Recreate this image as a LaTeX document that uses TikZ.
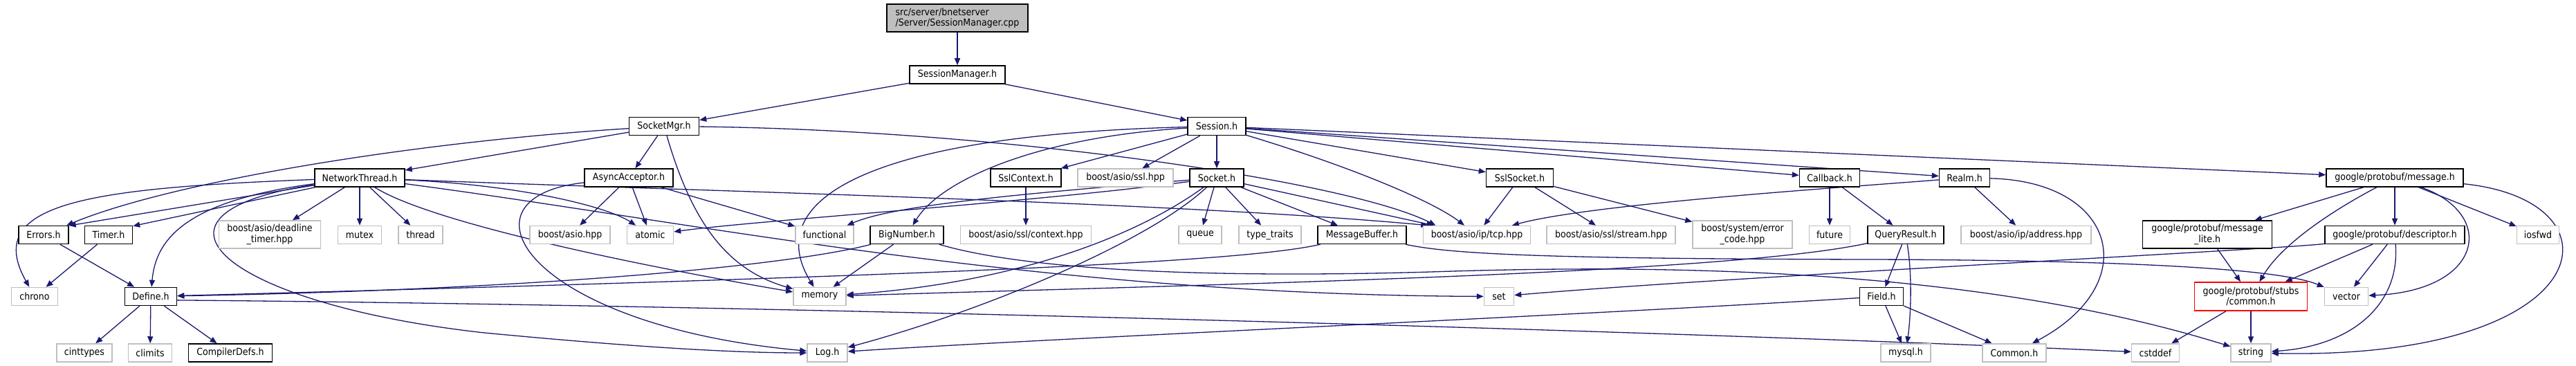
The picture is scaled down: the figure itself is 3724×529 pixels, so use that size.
\documentclass[tikz,border=0pt]{standalone}
\usepackage{fontspec}
\setmainfont{DejaVu Sans}[FakeStretch=0.9]
\usetikzlibrary{arrows.meta}
\definecolor{edgeblue}{HTML}{191970}
\definecolor{lgray}{HTML}{BFBFBF}
\pgfdeclarelayer{bg}
\pgfsetlayers{bg,main}
\tikzset{
  box/.style={rectangle, inner sep=0pt, minimum height=26pt, line width=1.5pt, fill=white,
    font=\fontsize{14}{15.5}\selectfont, align=center},
  doc/.style={box, draw=black},
  ext/.style={box, draw=lgray},
  redbox/.style={box, draw=red},
  dep/.style={draw=edgeblue, line width=1.3pt, -{Triangle[length=10pt,width=8pt]}},
}
\begin{document}
\begin{tikzpicture}[x=1pt,y=-1pt]
\useasboundingbox (0,0) rectangle (3724,529);
% row 0-2
\node[doc, fill=lgray, minimum width=204pt, minimum height=40pt, align=left] (root) at (1384,26) {src/server/bnetserver\\/Server/SessionManager.cpp};
\node[doc, minimum width=138pt] (smh) at (1384,108) {SessionManager.h};
\node[doc, minimum width=101pt] (sm) at (960,182.5) {SocketMgr.h};
\node[doc, minimum width=84pt] (sess) at (1759,182.5) {Session.h};
% row 3
\node[doc, minimum width=130pt] (nt) at (520,257) {NetworkThread.h};
\node[doc, minimum width=128pt] (aa) at (909,257) {AsyncAcceptor.h};
\node[doc, minimum width=102pt] (sslctx) at (1483,257) {SslContext.h};
\node[ext, minimum width=138pt] (sslhpp) at (1627,257) {boost/asio/ssl.hpp};
\node[doc, minimum width=78pt] (sock) at (1759,257) {Socket.h};
\node[doc, minimum width=97pt] (sslsock) at (2197,257) {SslSocket.h};
\node[doc, minimum width=87pt] (cb) at (2645,257) {Callback.h};
\node[doc, minimum width=73pt] (realm) at (2840,257) {Realm.h};
\node[doc, minimum width=198pt] (msg) at (3462,257) {google/protobuf/message.h};
% row 4
\node[doc, minimum width=72pt] (err) at (63,339.5) {Errors.h};
\node[doc, minimum width=69pt] (timer) at (157,339.5) {Timer.h};
\node[ext, minimum width=147pt, minimum height=40pt] (deadline) at (390,339) {boost/asio/deadline\\\_timer.hpp};
\node[ext, minimum width=63pt] (mutex) at (520,339.5) {mutex};
\node[ext, minimum width=64pt] (thread) at (608,339.5) {thread};
\node[ext, minimum width=116pt] (asiohpp) at (824,339.5) {boost/asio.hpp};
\node[ext, minimum width=67pt] (atomic) at (940,339.5) {atomic};
\node[ext, minimum width=84pt] (functional) at (1192,339.5) {functional};
\node[doc, minimum width=106pt] (bn) at (1311,339.5) {BigNumber.h};
\node[ext, minimum width=189pt] (sslctxhpp) at (1483,339.5) {boost/asio/ssl/context.hpp};
\node[ext, minimum width=62pt] (queue) at (1735,339.5) {queue};
\node[ext, minimum width=90pt] (typetraits) at (1836,339.5) {type\_traits};
\node[doc, minimum width=128pt] (mb) at (1969,339.5) {MessageBuffer.h};
\node[ext, minimum width=155pt] (tcp) at (2135,339.5) {boost/asio/ip/tcp.hpp};
\node[ext, minimum width=186pt] (stream) at (2329,339.5) {boost/asio/ssl/stream.hpp};
\node[ext, minimum width=144pt, minimum height=40pt] (errcode) at (2519,339) {boost/system/error\\\_code.hpp};
\node[ext, minimum width=59pt] (future) at (2645,339.5) {future};
\node[doc, minimum width=110pt] (qr) at (2755,339.5) {QueryResult.h};
\node[ext, minimum width=188pt] (addr) at (2929,339.5) {boost/asio/ip/address.hpp};
\node[doc, minimum width=187pt, minimum height=40pt] (msglite) at (3191,339) {google/protobuf/message\\\_lite.h};
\node[doc, minimum width=202pt] (desc) at (3462,339.5) {google/protobuf/descriptor.h};
\node[ext, minimum width=61pt] (iosfwd) at (3669,339.5) {iosfwd};
% row 5
\node[ext, minimum width=67pt] (chrono) at (50,428.5) {chrono};
\node[doc, minimum width=75pt] (define) at (218,428.5) {Define.h};
\node[ext, minimum width=76pt] (memory) at (1185,428.5) {memory};
\node[ext, minimum width=43pt] (set) at (2167,428.5) {set};
\node[doc, minimum width=63pt] (field) at (2720,428.5) {Field.h};
\node[redbox, minimum width=163pt, minimum height=41pt] (stubs) at (3254,428.5) {google/protobuf/stubs\\/common.h};
\node[ext, minimum width=63pt] (vector) at (3392,428.5) {vector};
% row 6
\node[ext, minimum width=80pt] (cinttypes) at (122,510) {cinttypes};
\node[ext, minimum width=63pt] (climits) at (217,510) {climits};
\node[doc, minimum width=121pt] (compdefs) at (333,510) {CompilerDefs.h};
\node[ext, minimum width=58pt] (log) at (1196,510) {Log.h};
\node[ext, minimum width=72pt] (mysql) at (2755,510) {mysql.h};
\node[ext, minimum width=92pt] (common) at (2912,510) {Common.h};
\node[ext, minimum width=69pt] (cstddef) at (3116,510) {cstddef};
\node[ext, minimum width=58pt] (string) at (3254,510) {string};

\begin{pgfonlayer}{bg}
\draw[dep] (root) -- (smh);
\draw[dep] (smh) -- (sm);
\draw[dep] (smh) -- (sess);
% SocketMgr.h
\draw[dep] (sm) -- (nt);
\draw[dep] (sm) .. controls (600,205) and (250,262) .. (err);
\draw[dep] (sm) -- (aa);
\draw[dep] (sm) .. controls (1000,320) and (1050,390) .. (memory);
\draw[dep] (sm) .. controls (1450,188) and (1950,262) .. (tcp.167);
% NetworkThread.h
\draw[dep] (nt) .. controls (120,272) and (-25,295) .. (chrono);
\draw[dep] (nt) -- (err.20);
\draw[dep] (nt) -- (timer.20);
\draw[dep] (nt) .. controls (270,290) and (225,345) .. (define);
\draw[dep] (nt) .. controls (170,310) and (330,440) .. (700,481) .. controls (900,500) and (1050,510) .. (log);
\draw[dep] (nt) -- (deadline);
\draw[dep] (nt) -- (mutex);
\draw[dep] (nt) -- (thread);
\draw[dep] (nt) .. controls (620,320) and (900,380) .. (memory);
\draw[dep] (nt) .. controls (1000,276) and (1700,292) .. (tcp.169);
\draw[dep] (nt) .. controls (760,268) and (880,300) .. (atomic);
\draw[dep] (nt) .. controls (1000,320) and (1500,426) .. (set);
% AsyncAcceptor.h
\draw[dep] (aa) -- (asiohpp);
\draw[dep] (aa) -- (atomic);
\draw[dep] (aa) -- (functional);
\draw[dep] (aa) .. controls (650,285) and (760,470) .. (log);
% Session.h
\draw[dep] (sess) -- (sslctx);
\draw[dep] (sess) -- (sslhpp);
\draw[dep] (sess) -- (sock);
\draw[dep] (sess) .. controls (1250,195) and (1100,290) .. (memory);
\draw[dep] (sess) .. controls (1500,198) and (1360,260) .. (bn);
\draw[dep] (sess) -- (sslsock);
\draw[dep] (sess) -- (cb);
\draw[dep] (sess) -- (realm);
\draw[dep] (sess) -- (msg);
\draw[dep] (sess) .. controls (1950,240) and (2070,290) .. (tcp);
% Socket.h
\draw[dep] (sock) .. controls (1500,292) and (1100,318) .. (atomic);
\draw[dep] (sock) .. controls (1450,282) and (1290,298) .. (functional);
\draw[dep] (sock) -- (queue);
\draw[dep] (sock) -- (typetraits);
\draw[dep] (sock) -- (mb);
\draw[dep] (sock) -- (tcp);
\draw[dep] (sock) .. controls (1630,350) and (1450,410) .. (memory);
\draw[dep] (sock) .. controls (1660,350) and (1420,450) .. (log);
% others row 3
\draw[dep] (sslctx) -- (sslctxhpp);
\draw[dep] (sslsock) -- (tcp);
\draw[dep] (sslsock) -- (stream);
\draw[dep] (sslsock) -- (errcode);
\draw[dep] (cb) -- (future);
\draw[dep] (cb) -- (qr);
\draw[dep] (realm) .. controls (2650,272) and (2300,295) .. (tcp);
\draw[dep] (realm) -- (addr);
\draw[dep] (realm) .. controls (3060,262) and (3100,410) .. (common);
% google/protobuf/message.h
\draw[dep] (msg) -- (msglite);
\draw[dep] (msg) .. controls (3380,300) and (3300,350) .. (stubs);
\draw[dep] (msg) -- (desc);
\draw[dep] (msg) -- (iosfwd);
\draw[dep] (msg) .. controls (3610,310) and (3590,420) .. (vector);
\draw[dep] (msg.-5) .. controls (3800,290) and (3760,520) .. (string);
\draw[dep] (msglite) -- (stubs);
\draw[dep] (desc) -- (stubs);
\draw[dep] (desc) -- (vector);
\draw[dep] (desc) .. controls (3470,440) and (3400,500) .. (string);
\draw[dep] (desc) .. controls (3300,360) and (2500,400) .. (set);
\draw[dep] (stubs) -- (cstddef);
\draw[dep] (stubs) -- (string);
% QueryResult.h / Field.h
\draw[dep] (qr) -- (field);
\draw[dep] (qr) .. controls (2765,400) and (2762,460) .. (mysql);
\draw[dep] (qr) .. controls (2500,395) and (1800,410) .. (memory);
\draw[dep] (field) -- (mysql);
\draw[dep] (field) -- (common);
\draw[dep] (field) .. controls (2300,455) and (1500,490) .. (log);
% left part
\draw[dep] (err) -- (define);
\draw[dep] (timer) -- (chrono);
\draw[dep] (define) -- (cinttypes);
\draw[dep] (define) -- (climits);
\draw[dep] (define) -- (compdefs);
\draw[dep] (define.-8) .. controls (1200,442) and (2500,482) .. (cstddef);
% BigNumber.h / MessageBuffer.h
\draw[dep] (bn) .. controls (1150,382) and (800,418) .. (define);
\draw[dep] (bn) -- (memory);
\draw[dep] (bn) .. controls (1500,395) and (1800,402) .. (2100,392) .. controls (2500,380) and (2900,400) .. (string);
\draw[dep] (mb) .. controls (1800,378) and (1400,397) .. (define);
\draw[dep] (mb) .. controls (2100,368) and (2250,374) .. (2700,375) .. controls (3100,376) and (3300,390) .. (vector);
\end{pgfonlayer}
\end{tikzpicture}
\end{document}
